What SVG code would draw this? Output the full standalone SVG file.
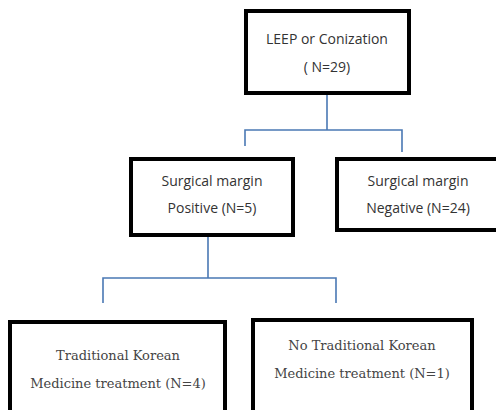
<svg xmlns="http://www.w3.org/2000/svg" width="496" height="410" viewBox="0 0 496 410">
<style>
.box{fill:#fff;stroke:#000;stroke-width:4}
.s{font-family:"Open Sans","Noto Sans",sans-serif;font-size:14px;fill:#333;text-anchor:middle}
.r{font-family:"DejaVu Serif","Liberation Serif",serif;font-size:13px;fill:#444;text-anchor:middle}
.c{fill:none;stroke:#4a78b4;stroke-width:1.6}
</style>
<rect width="496" height="410" fill="#fff"/>
<g id="connectors">
<path class="c" d="M327 95V130M245 146V130H402V152"/>
<path class="c" d="M208 237V278M103 303V278H336V303"/>
</g>
<g id="n1"><rect class="box" x="246" y="11" width="163" height="82"/>
<text class="s" x="327" y="44">LEEP or Conization</text><text class="s" x="327" y="72">( N=29)</text></g>
<g id="n2"><rect class="box" x="131" y="159" width="162" height="76"/>
<text class="s" x="212" y="186">Surgical margin</text><text class="s" x="212" y="213">Positive (N=5)</text></g>
<g id="n3"><rect class="box" x="337" y="159" width="170" height="71"/>
<text class="s" x="418" y="186">Surgical margin</text><text class="s" x="418" y="213">Negative (N=24)</text></g>
<g id="n4"><rect class="box" x="10" y="322" width="215" height="100"/>
<text class="r" x="118" y="360">Traditional Korean</text><text class="r" x="118" y="388">Medicine treatment (N=4)</text></g>
<g id="n5"><rect class="box" x="253" y="320" width="219" height="100"/>
<text class="r" x="362" y="350">No Traditional Korean</text><text class="r" x="362" y="378">Medicine treatment (N=1)</text></g>
</svg>
